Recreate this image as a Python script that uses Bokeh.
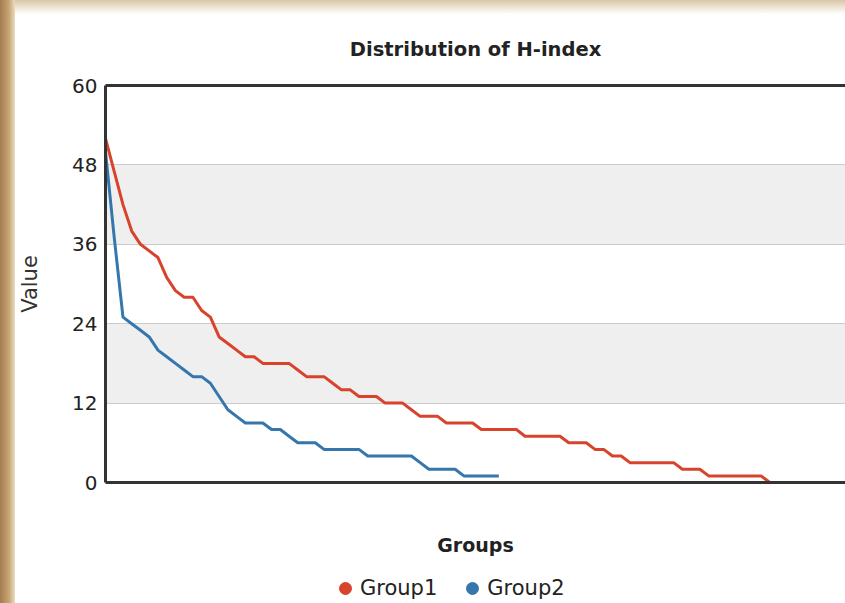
from bokeh.plotting import figure
from bokeh.models import (Range1d, FixedTicker, LinearAxis, Legend, LegendItem,
                          ColumnDataSource, Div)
from bokeh.layouts import row, column
from bokeh.embed import file_html
from bokeh.resources import INLINE

# ---- data ----
title_text = "Distribution of H-index"
x_label = "Groups"
y_label = "Value"
y_ticks = [0, 12, 24, 36, 48, 60]

group1_name = "Group1"
group1_values = [52, 47, 42, 38, 36, 35, 34, 31, 29, 28, 28, 26, 25, 22, 21, 20,
                 19, 19, 18, 18, 18, 18, 17, 16, 16, 16, 15, 14, 14, 13, 13, 13,
                 12, 12, 12, 11, 10, 10, 10, 9, 9, 9, 9, 8, 8, 8, 8, 8, 7, 7, 7,
                 7, 7, 6, 6, 6, 5, 5, 4, 4, 3, 3, 3, 3, 3, 3, 2, 2, 2, 1, 1, 1,
                 1, 1, 1, 1, 0]

group2_name = "Group2"
group2_values = [50, 37, 25, 24, 23, 22, 20, 19, 18, 17, 16, 16, 15, 13, 11, 10,
                 9, 9, 9, 8, 8, 7, 6, 6, 6, 5, 5, 5, 5, 5, 4, 4, 4, 4, 4, 4, 3,
                 2, 2, 2, 2, 1, 1, 1, 1, 1]

# ---- styles ----
RED = "#d8432c"
BLUE = "#3577ad"
AXIS = "#333333"
FONT = "DejaVu Sans"

src1 = ColumnDataSource(dict(x=list(range(len(group1_values))), y=group1_values))
src2 = ColumnDataSource(dict(x=list(range(len(group2_values))), y=group2_values))

p = figure(width=830, height=546, output_backend="svg", toolbar_location=None,
           x_range=Range1d(0, 84.66), y_range=Range1d(0, 60),
           min_border_left=77, min_border_right=0, min_border_top=71,
           min_border_bottom=78)

p.background_fill_color = "white"
p.border_fill_color = "white"
p.outline_line_color = None

# title
p.title.text = title_text
p.title.align = "center"
p.title.vertical_align = "top"
p.title.text_font = FONT
p.title.text_font_size = "19.5px"
p.title.text_font_style = "bold"
p.title.text_color = "#222222"
p.title.standoff = 46

# y axis
ya = p.yaxis[0]
ya.ticker = FixedTicker(ticks=y_ticks)
ya.axis_label = y_label
ya.axis_label_text_font = FONT
ya.axis_label_text_font_size = "21px"
ya.axis_label_text_font_style = "normal"
ya.axis_label_text_color = "#333333"
ya.axis_label_standoff = 27
ya.major_label_text_font = FONT
ya.major_label_text_font_size = "20px"
ya.major_label_text_color = "#222222"
ya.major_label_standoff = 2
ya.major_tick_line_color = None
ya.minor_tick_line_color = None
ya.axis_line_width = 3
ya.axis_line_color = AXIS

# x axis (no visible ticks or tick labels)
xa = p.xaxis[0]
xa.ticker = FixedTicker(ticks=[0])
xa.axis_label = x_label
xa.axis_label_text_font = FONT
xa.axis_label_text_font_size = "19px"
xa.axis_label_text_font_style = "bold"
xa.axis_label_text_color = "#222222"
xa.axis_label_standoff = 51
xa.major_label_text_font_size = "1px"
xa.major_label_text_color = None
xa.major_label_standoff = 0
xa.major_tick_line_color = None
xa.major_tick_out = 0
xa.minor_tick_line_color = None
xa.axis_line_width = 3
xa.axis_line_color = AXIS

# top border as an axis without ticks
top = LinearAxis(ticker=FixedTicker(ticks=[0]), major_label_text_font_size="1px",
                 major_label_text_color=None, major_label_standoff=0,
                 major_tick_line_color=None, major_tick_out=0,
                 minor_tick_line_color=None,
                 axis_line_width=3, axis_line_color=AXIS)
p.add_layout(top, "above")

# grid
p.xgrid.grid_line_color = None
p.ygrid.ticker = FixedTicker(ticks=y_ticks)
p.ygrid.grid_line_color = "#cccccc"
p.ygrid.grid_line_width = 1
p.ygrid.band_fill_color = "#efefef"
p.ygrid.band_fill_alpha = 1.0

# lines
r1 = p.line("x", "y", source=src1, line_color=RED, line_width=3, line_join="round")
r2 = p.line("x", "y", source=src2, line_color=BLUE, line_width=3, line_join="round")

# ---- legend strip (separate small figure below the chart) ----
pl = figure(width=830, height=43, output_backend="svg", toolbar_location=None,
            x_axis_type=None, y_axis_type=None,
            min_border_left=0, min_border_right=0, min_border_top=0,
            min_border_bottom=0)
pl.outline_line_color = None
pl.background_fill_color = "white"
pl.border_fill_color = "white"
m1 = pl.scatter("x", "y", source=src1, size=0, marker="circle",
                fill_color=RED, line_color=RED)
m2 = pl.scatter("x", "y", source=src2, size=0, marker="circle",
                fill_color=BLUE, line_color=BLUE)
legend = Legend(items=[LegendItem(label=group1_name, renderers=[m1]),
                       LegendItem(label=group2_name, renderers=[m2])],
                orientation="horizontal", location=(225, 0),
                label_text_font=FONT, label_text_font_size="21px",
                label_text_color="#222222",
                glyph_width=30, glyph_height=30, label_standoff=0,
                spacing=20, padding=0, margin=0,
                border_line_color=None, background_fill_alpha=0)
pl.add_layout(legend, "center")

# ---- page decoration (parchment edges of the original page) ----
left_strip = Div(text="", width=15, height=603, margin=0,
                 styles={"background": "linear-gradient(90deg, #a47b4f, #c8a574 60%, #e9dcc4)"})
top_band = Div(text="", width=830, height=14, margin=0,
               styles={"background": "linear-gradient(180deg, #d8c7a6, #ffffff)"})

layout = row(left_strip, column(top_band, p, pl, spacing=0), spacing=0)

open("out.html", "w").write(file_html(layout, INLINE))
